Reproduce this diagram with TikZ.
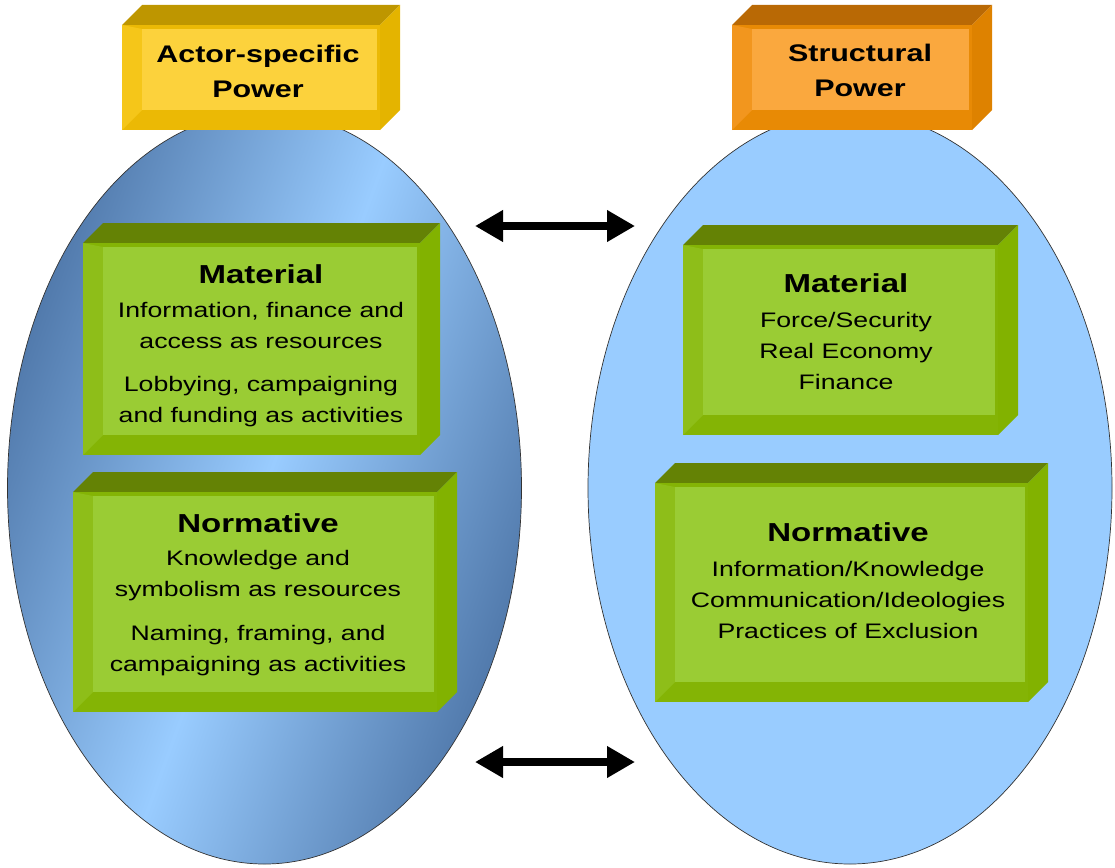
\documentclass[tikz,border=0pt]{standalone}
\usepackage{fontspec}
\setmainfont[FakeStretch=1.27]{Liberation Sans}
\usetikzlibrary{arrows.meta}

\definecolor{skyblue}{RGB}{153,204,255}
\definecolor{deepblue}{RGB}{78,118,168}
\definecolor{grntop}{RGB}{100,130,5}
\definecolor{grnside}{RGB}{130,178,0}
\definecolor{grnlow}{RGB}{132,180,5}
\definecolor{grnleft}{RGB}{142,190,25}
\definecolor{grnface}{RGB}{154,204,52}
\definecolor{yeltop}{RGB}{190,150,0}
\definecolor{yelside}{RGB}{228,180,0}
\definecolor{yellow}{RGB}{235,185,5}
\definecolor{yelleft}{RGB}{245,198,25}
\definecolor{yelface}{RGB}{252,210,60}
\definecolor{orgtop}{RGB}{185,105,5}
\definecolor{orgside}{RGB}{222,130,0}
\definecolor{orglow}{RGB}{232,138,5}
\definecolor{orgleft}{RGB}{242,150,30}
\definecolor{orgface}{RGB}{250,168,62}

\newcommand{\boxhead}[1]{{\fontsize{26}{31}\selectfont\bfseries #1}}

\begin{document}
\begin{tikzpicture}[x=1pt,y=-1pt,
  boxtext/.style={align=center,inner sep=0pt,font=\fontsize{21}{31}\selectfont},
  headtext/.style={align=center,inner sep=0pt,font=\fontsize{24}{35}\selectfont\bfseries},
  dblarrow/.style={line width=8pt,{Triangle[length=28pt,width=30pt]}-{Triangle[length=28pt,width=30pt]}}]
\useasboundingbox (0,0) rectangle (1115,867);
% the two ovals
\shadedraw[draw=black!80,line width=0.7pt,left color=deepblue,right color=deepblue,middle color=skyblue,shading angle=70]
  (264.5,488) ellipse [x radius=257,y radius=376];
\filldraw[draw=black!80,line width=0.7pt,fill=skyblue] (850,488) ellipse [x radius=262,y radius=376];
% bevelled boxes: front corners and colour set
\foreach \xa/\ya/\xb/\yb/\tone in {122/25/380/130/yel,732/25/972/130/org,
    83/243/420/455/grn,73/492/437/712/grn,683/245/998/435/grn,655/483/1028/702/grn}{
  \fill[fill=\tone top] (\xa,\ya) -- (\xa+20,\ya-20) -- (\xb+20,\ya-20) -- (\xb,\ya) -- cycle;
  \fill[fill=\tone side] (\xb,\ya) -- (\xb+20,\ya-20) -- (\xb+20,\yb-20) -- (\xb,\yb) -- cycle;
  \fill[fill=\tone low] (\xa,\ya) rectangle (\xb,\yb);
  \fill[fill=\tone left] (\xa,\ya) -- (\xa+20,\ya+4) -- (\xa+20,\yb-20) -- (\xa,\yb) -- cycle;
  \fill[fill=\tone face] (\xa+20,\ya+4) rectangle (\xb-3,\yb-20);
}
\node[headtext] (actpow) at (258,71) {Actor-specific\\Power};
\node[headtext] (strpow) at (860,70) {Structural\\Power};
\node[boxtext] (actmat) at (261,346) {\boxhead{Material}\\[3pt]Information, finance and\\access as resources\\[12pt]Lobbying, campaigning\\and funding as activities};
\node[boxtext] (actnorm) at (258,595) {\boxhead{Normative}\\[2pt]Knowledge and\\symbolism as resources\\[13pt]Naming, framing, and\\campaigning as activities};
\node[boxtext] (strmat) at (846,332) {\boxhead{Material}\\[4pt]Force/Security\\Real Economy\\Finance};
\node[boxtext] (strnorm) at (848,581) {\boxhead{Normative}\\[4pt]Information/Knowledge\\Communication/Ideologies\\Practices of Exclusion};
% arrows between the ovals
\coordinate (uparrl) at (475,226);
\coordinate (uparrr) at (635,226);
\coordinate (lowarrl) at (475,762);
\coordinate (lowarrr) at (635,762);
\draw[dblarrow] (uparrl) -- (uparrr);
\draw[dblarrow] (lowarrl) -- (lowarrr);
\end{tikzpicture}
\end{document}
